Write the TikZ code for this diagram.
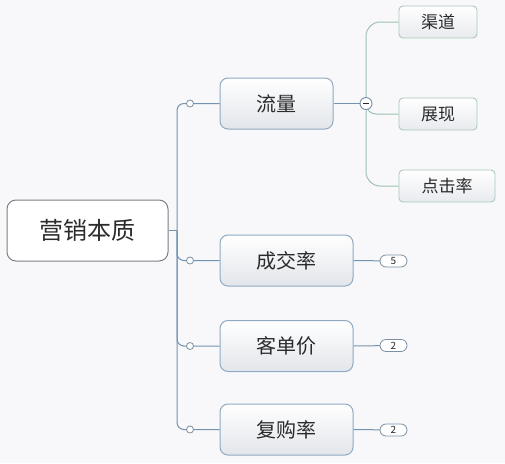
\documentclass[tikz,border=0pt]{standalone}
\usepackage{fontspec}
\usetikzlibrary{calc}
\setmainfont{Noto Sans CJK SC}
\definecolor{bg}{HTML}{F8F8FA}
\definecolor{rootgray}{HTML}{7F7F85}
\definecolor{boxblue}{HTML}{8FAAC2}
\definecolor{boxgray}{HTML}{E2E5EA}
\definecolor{trunk}{HTML}{7393B0}
\definecolor{subgreen}{HTML}{A9C9BC}
\definecolor{subline}{HTML}{9EC2B3}
\definecolor{txt}{HTML}{2B2B2B}
\tikzset{
  rootbox/.style={draw=rootgray, line width=1pt, rounded corners=9pt, fill=white,
    minimum width=161pt, minimum height=61pt, inner sep=0pt, text=txt,
    font=\fontsize{24}{26}\selectfont},
  lvlone/.style={draw=boxblue, line width=1pt, rounded corners=8pt,
    top color=white, bottom color=boxgray, minimum height=51pt, inner sep=0pt,
    text=txt, font=\fontsize{20}{22}\selectfont},
  lvltwo/.style={draw=subgreen, line width=0.9pt, rounded corners=4pt,
    top color=white, bottom color=boxgray!80, minimum height=32pt, inner sep=0pt,
    text=txt, font=\fontsize{17}{19}\selectfont},
  badge/.style={draw=boxblue!85!black, line width=0.8pt, rounded corners=6pt, fill=white,
    minimum width=27pt, minimum height=12pt, inner sep=0pt, text=txt,
    font=\fontsize{10}{11}\selectfont},
  knob/.style={circle, draw=boxblue!85!black, line width=0.8pt, fill=white,
    minimum size=7pt, inner sep=0pt},
  trunkline/.style={draw=trunk, line width=1pt},
  subl/.style={draw=subline, line width=1pt},
}
\begin{document}
\begin{tikzpicture}[x=1pt,y=-1pt]
\fill[bg] (0,0) rectangle (505,463);
\useasboundingbox (0,0) rectangle (505,463);

% nodes
\node[rootbox] (root) at (87.5,230.5) {营销本质};
\node[lvlone, minimum width=113pt] (ll) at (276.5,103.5) {流量};
\node[lvlone, minimum width=133pt] (cj) at (286.5,260.5) {成交率};
\node[lvlone, minimum width=133pt] (kd) at (286.5,346) {客单价};
\node[lvlone, minimum width=133pt] (fg) at (286.5,429.5) {复购率};

\node[lvltwo, minimum width=78pt] (qd) at (438,22) {渠道};
\node[lvltwo, minimum width=78pt] (zx) at (438,114) {展现};
\node[lvltwo, minimum width=96pt] (dj) at (447,186) {点击率};

% invisible anchors for badges (drawn after connectors)
\coordinate (b1c) at (393.5,261);
\coordinate (b2c) at (393.5,345.5);
\coordinate (b3c) at (393.5,430);
\coordinate (tr) at (177,230.5);
\coordinate (k1c) at (190,103.5);
\coordinate (k2c) at (190,260.5);
\coordinate (k3c) at (190,346);
\coordinate (k4c) at (190,429.5);

% trunk connectors
\draw[trunkline] (root.east) -- (tr);
\draw[trunkline, rounded corners=7pt] (tr) |- (k1c) -- (ll.west);
\draw[trunkline, rounded corners=7pt] (tr) |- (k2c) -- (cj.west);
\draw[trunkline, rounded corners=7pt] (tr) |- (k3c) -- (kd.west);
\draw[trunkline, rounded corners=7pt] (tr) |- (k4c) -- (fg.west);

% knobs
\node[knob] (k1) at (k1c) {};
\node[knob] (k2) at (k2c) {};
\node[knob] (k3) at (k3c) {};
\node[knob] (k4) at (k4c) {};

% badges
\draw[trunkline] (cj.east) -- (b1c);
\draw[trunkline] (kd.east) -- (b2c);
\draw[trunkline] (fg.east) -- (b3c);
\node[badge] (b1) at (b1c) {5};
\node[badge] (b2) at (b2c) {2};
\node[badge] (b3) at (b3c) {2};

% sub branches
\coordinate (colc) at (366,103.5);
\draw[subl, rounded corners=14pt] (colc) |- (qd.west);
\draw[subl, rounded corners=10pt] (colc) |- (zx.west);
\draw[subl, rounded corners=14pt] (colc) |- (dj.west);
\draw[trunkline] (ll.east) -- (colc);
\node[circle, draw=boxblue!85!black, line width=0.9pt, fill=white, minimum size=12pt, inner sep=0pt] (col) at (colc) {};
\draw[line width=1pt, draw=txt] ($(col.center)+(-3,0)$) -- ($(col.center)+(3,0)$);
\end{tikzpicture}
\end{document}
